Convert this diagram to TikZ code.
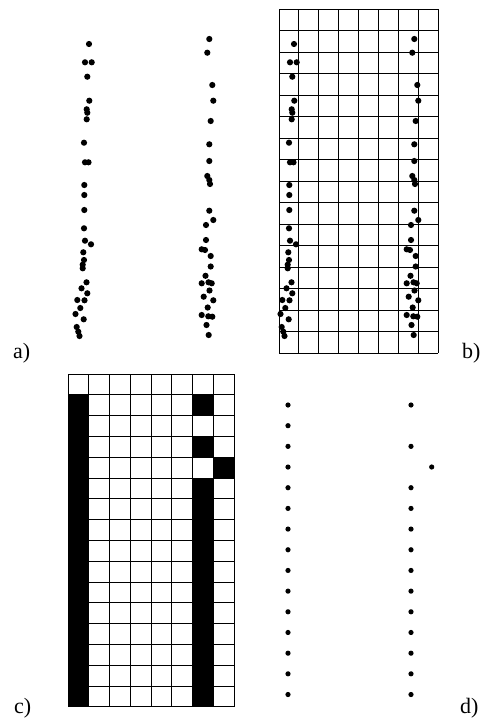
\documentclass[tikz,border=0pt]{standalone}
\usepackage{fontspec}
\setmainfont{Liberation Serif}
\begin{document}
\begin{tikzpicture}[x=1pt,y=-1pt,
  gridline/.style={line width=1pt,black},
  cellfill/.style={fill=black},
  lab/.style={anchor=base west,inner sep=0pt,font=\fontsize{22}{22}\selectfont}]
\useasboundingbox (0,0) rectangle (483,720);
\def\dotlist{89/44, 85/62.3, 91.7/62.3, 87.3/76.7, 89.3/100.7, 86.7/109.3, 87.3/112.7, 86.7/119.3,
 84/142.7, 85/162.3, 88.5/162.3, 84.3/185, 84.3/195, 84.3/210, 84/228.3, 85/240.7, 91/244.3,
 83.3/252.3, 84/260, 82.7/264.7, 82.7/268.3, 86.5/282.3, 81.5/288.3, 87.3/293.3, 77.3/300, 84.5/300.3,
 80.3/308, 75.5/314, 83.7/319.3, 76.7/327, 78.3/331.7, 79.5/336,
 209.3/39, 207.3/52.7, 212.3/85, 213.3/100.7, 210.7/121, 209.3/144.3, 209.3/161, 207.3/176,
 209.3/180, 210/184, 209.3/210.7, 213.3/220, 206/225, 206/240, 201.7/249.3, 205/250, 210.7/256,
 210.7/266.5, 205.5/275.8, 201.7/283.3, 208.5/282.3, 211.7/283.3, 209.5/290.5, 203.7/296.7,
 213.3/300.3, 207.7/307.5, 201.7/315, 208.3/316.3, 212.3/316.7, 206.5/325, 208.7/335}
% panel a
\foreach \p/\q in \dotlist { \fill (\p,\q) circle[radius=3.1]; }
% panel b grid
\foreach \i in {0,...,8} { \draw[gridline] ({279+\i*19.875},9) -- ({279+\i*19.875},353); }
\foreach \j in {0,...,16} { \draw[gridline] (279,{9+\j*21.5}) -- (438,{9+\j*21.5}); }
\begin{scope}[shift={(205,0)}]
\foreach \p/\q in \dotlist { \fill (\p,\q) circle[radius=3.1]; }
\end{scope}
% panel c
\foreach \r in {1,...,15} { \fill[cellfill] (68,{374+\r*20.8}) rectangle +(20.75,20.8); }
\foreach \c/\r in {6/1,6/3,7/4,6/5,6/6,6/7,6/8,6/9,6/10,6/11,6/12,6/13,6/14,6/15}
  { \fill[cellfill] ({68+\c*20.75},{374+\r*20.8}) rectangle +(20.75,20.8); }
\foreach \i in {0,...,8} { \draw[gridline] ({68+\i*20.75},374) -- ({68+\i*20.75},706.8); }
\foreach \j in {0,...,16} { \draw[gridline] (68,{374+\j*20.8}) -- (234,{374+\j*20.8}); }
% panel d
\foreach \k in {0,...,14} { \fill ({288},{405+\k*20.68}) circle[radius=2.6]; }
\foreach \k in {0,2,4,5,6,7,8,9,10,11,12,13,14} { \fill ({411},{405+\k*20.68}) circle[radius=2.6]; }
\fill (431.7,467) circle[radius=2.6];
% labels
\node[lab] (la) at (13,358) {a)};
\node[lab] (lb) at (462,358) {b)};
\node[lab] (lc) at (14,713) {c)};
\node[lab] (ld) at (460,713) {d)};
\end{tikzpicture}
\end{document}
